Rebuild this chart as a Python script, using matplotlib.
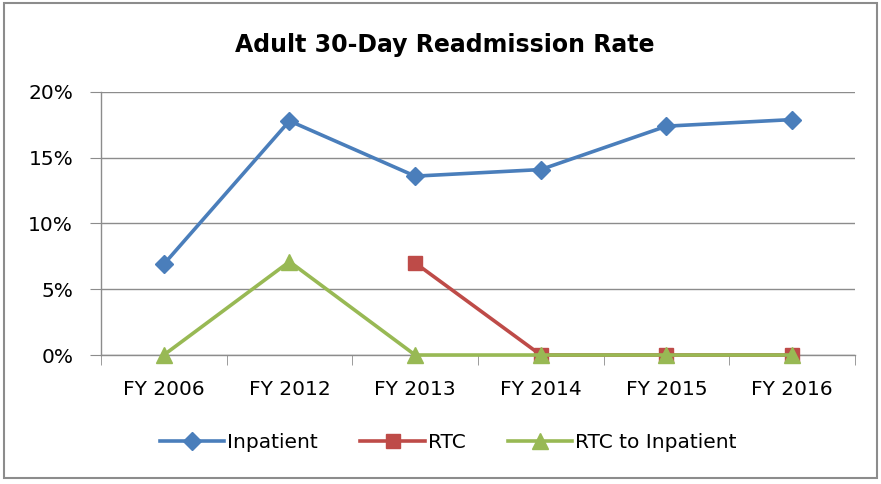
import numpy as np
import matplotlib
matplotlib.use("Agg")
import matplotlib.pyplot as plt
from matplotlib.patches import Rectangle
from matplotlib.ticker import FuncFormatter, FixedLocator

plt.rcParams['font.family'] = ['DejaVu Sans']

categories = ["FY 2006", "FY 2012", "FY 2013", "FY 2014", "FY 2015", "FY 2016"]
inpatient = [6.9, 17.8, 13.6, 14.1, 17.4, 17.9]
rtc = [np.nan, np.nan, 7.0, 0.0, 0.0, 0.0]
rtc_to_inpatient = [0.0, 7.1, 0.0, 0.0, 0.0, 0.0]

fig = plt.figure(figsize=(8.81, 4.84), dpi=100)
ax = fig.add_axes([0.1146, 0.2665, 0.8559, 0.5435])

x = np.arange(len(categories))
ax.plot(x, inpatient, color="#4A7EBB", lw=2.6, marker="D", ms=9.5,
        label="Inpatient", zorder=3, clip_on=False)
ax.plot(x, rtc, color="#BE4B48", lw=2.6, marker="s", ms=10.5,
        label="RTC", zorder=4, clip_on=False)
ax.plot(x, rtc_to_inpatient, color="#98B954", lw=2.6, marker="^", ms=11,
        label="RTC to Inpatient", zorder=5, clip_on=False)

ax.set_xlim(-0.5, len(categories) - 0.5)
ax.set_ylim(0, 20)
ax.set_yticks([0, 5, 10, 15, 20])
ax.yaxis.set_major_formatter(FuncFormatter(lambda v, p: f"{v:.0f}%"))
ax.set_xticks(x)
ax.set_xticklabels(categories)
ax.xaxis.set_minor_locator(FixedLocator(np.arange(-0.5, len(categories), 1.0)))

ax.grid(axis="y", color="#8C8C8C", lw=1.0)
ax.set_axisbelow(True)
for s in ("top", "right"):
    ax.spines[s].set_visible(False)
for s in ("left", "bottom"):
    ax.spines[s].set_color("#8C8C8C")
    ax.spines[s].set_linewidth(1.0)

ax.tick_params(axis="y", length=8, color="#8C8C8C", labelsize=14.5, pad=12)
ax.tick_params(axis="x", which="major", length=0, labelsize=14.5, pad=18)
ax.tick_params(axis="x", which="minor", length=7, color="#8C8C8C")

fig.text(0.505, 0.907, "Adult 30-Day Readmission Rate", ha="center",
         va="center", fontsize=17, fontweight="bold")

fig.legend(loc="center", bbox_to_anchor=(0.509, 0.085), ncol=3, frameon=False,
           fontsize=14.5, handlelength=3.2, handletextpad=0.15,
           columnspacing=2.1)

fig.add_artist(Rectangle((0.004, 0.012), 0.992, 0.982, transform=fig.transFigure,
                         fill=False, edgecolor="#8C8C8C", lw=1.5))

fig.savefig("out.png", dpi=100)
